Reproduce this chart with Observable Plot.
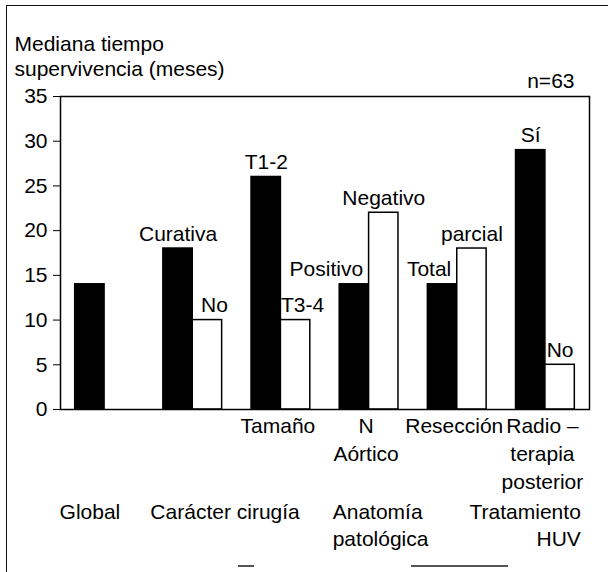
<!DOCTYPE html>
<html>
<head>
<meta charset="utf-8">
<script src="https://cdn.jsdelivr.net/npm/d3@7"></script>
<script src="https://cdn.jsdelivr.net/npm/@observablehq/plot@0.6"></script>
<style>
  html, body { margin: 0; padding: 0; background: #fff; }
  #wrap { position: relative; width: 608px; height: 572px; overflow: hidden; background: #fff; }
  #wrap .border { position: absolute; left: 6px; top: 5px; right: 0; bottom: 0;
    border-left: 1.5px solid #111; border-top: 1.5px solid #111; pointer-events: none; }
  #wrap .seg { position: absolute; height: 1.5px; background: #555; }
  #wrap svg { position: absolute; left: 0; top: 0; }
</style>
</head>
<body>
<div id="wrap"><div class="border"></div>
  <div class="seg" style="left:238px;width:16px;top:565px;"></div>
  <div class="seg" style="left:411px;width:97px;top:565px;"></div>
</div>
<script>
// ---- data ----
// group index of each bar, and whether it is the first (black) or second (white) bar of the group
const barGroup = [0, 1, 1, 2, 2, 3, 3, 4, 4, 5, 5];
const barSide  = [0, 0, 1, 0, 1, 0, 1, 0, 1, 0, 1];
const barValue = [14, 18, 10, 26, 10, 14, 22, 14, 18, 29, 5];
const barLabel = ["", "Curativa", "No", "T1-2", "T3-4", "Positivo", "Negativo", "Total", "parcial", "Sí", "No"];
const subLabel = ["", "", "Tamaño", "N\nAórtico", "Resección", "Radio –\nterapia\nposterior"];
const groupLabel = ["Global", "Carácter cirugía", "Anatomía\npatológica", "Tratamiento\nHUV"];
const groupLabelAt = [0, 1, 3, 5];          // group each bottom label belongs to
const yTicks = [0, 5, 10, 15, 20, 25, 30, 35];
const yTitle = "Mediana tiempo\nsupervivencia (meses)";
const nNote = "n=63";

// ---- build table ----
const bars = barValue.map((v, i) => {
  const slot = barGroup[i] * 3 + barSide[i];
  return { x1: slot, x2: slot + 1, xc: slot + 0.5, value: v, label: barLabel[i],
           side: barSide[i], idx: i };
});
const subs = subLabel.map((t, g) => ({ x: g * 3 + 1, text: t })).filter(d => d.text);
const grp = groupLabel.map((t, k) => ({ g: groupLabelAt[k], text: t }));

const FS = 21;
// label placement rules (layout, not data)
const endAnchored = new Set([5, 7]);     // Positivo, Total sit left, against their bar's right edge
const nudgedRight = new Set([2, 4]);     // first "No", "T3-4"
const labelled = bars.filter(d => d.label);
const plainLab = labelled.filter(d => !endAnchored.has(d.idx) && !nudgedRight.has(d.idx));
const nudgeLab = labelled.filter(d => nudgedRight.has(d.idx));
const endLab = labelled.filter(d => endAnchored.has(d.idx));

const common = { fill: "#000" };
const chart = Plot.plot({
  width: 608,
  height: 572,
  marginLeft: 60,
  marginRight: 19,
  marginTop: 96,
  marginBottom: 163,
  style: { fontFamily: "'Liberation Sans', Arial, Helvetica, sans-serif", fontSize: FS + "px", color: "#000", background: "transparent" },
  x: { domain: [-0.5, 17.5], axis: null },
  y: { domain: [0, 35], ticks: yTicks, tickSize: 7, tickPadding: 6, label: null, tickFormat: d => String(d) },
  marks: [
    Plot.rectY(bars, { x1: "x1", x2: "x2", y: "value", fill: d => d.side === 0 ? "#000" : "#fff",
                       stroke: "#000", strokeWidth: 1.5 }),
    Plot.frame({ stroke: "#000", strokeWidth: 1.5 }),
    Plot.text(plainLab, { x: "xc", y: "value", text: "label", lineAnchor: "bottom", dy: -8, ...common }),
    Plot.text(nudgeLab, { x: "xc", y: "value", text: "label", lineAnchor: "bottom", dy: -8, dx: 7, ...common }),
    Plot.text(endLab, { x: "x2", y: "value", text: "label", lineAnchor: "bottom",
                        textAnchor: "end", dy: -8, dx: -6, ...common }),
    Plot.text(subs, { x: "x", text: "text", frameAnchor: "bottom", lineAnchor: "top",
                      lineHeight: 1.33, dy: 4, dx: -3, ...common }),
    Plot.text(grp.filter(d => d.g === 0), { x: d => d.g * 3 + 0.5, text: "text", frameAnchor: "bottom",
                      lineAnchor: "top", lineHeight: 1.29, dy: 90, ...common }),
    Plot.text(grp.filter(d => d.g === 1), { x: d => d.g * 3, text: "text", frameAnchor: "bottom",
                      lineAnchor: "top", lineHeight: 1.29, dy: 90, dx: -13, textAnchor: "start", ...common }),
    Plot.text(grp.filter(d => d.g === 3), { x: d => d.g * 3, text: "text", frameAnchor: "bottom",
                      lineAnchor: "top", lineHeight: 1.29, dy: 90, dx: -7, textAnchor: "start", ...common }),
    Plot.text(grp.filter(d => d.g === 5), { x: d => d.g * 3 + 2, text: "text", frameAnchor: "bottom",
                      lineAnchor: "top", lineHeight: 1.29, dy: 90, dx: 6, textAnchor: "end", ...common }),
    Plot.text([yTitle], { frameAnchor: "top-left", text: d => d, textAnchor: "start",
                      lineAnchor: "bottom", lineHeight: 1.19, dx: -46, dy: -21, ...common }),
    Plot.text([nNote], { frameAnchor: "top-right", text: d => d, textAnchor: "end",
                      lineAnchor: "bottom", dx: -15, dy: -9, ...common })
  ]
});
document.getElementById("wrap").appendChild(chart);
</script>
</body>
</html>
